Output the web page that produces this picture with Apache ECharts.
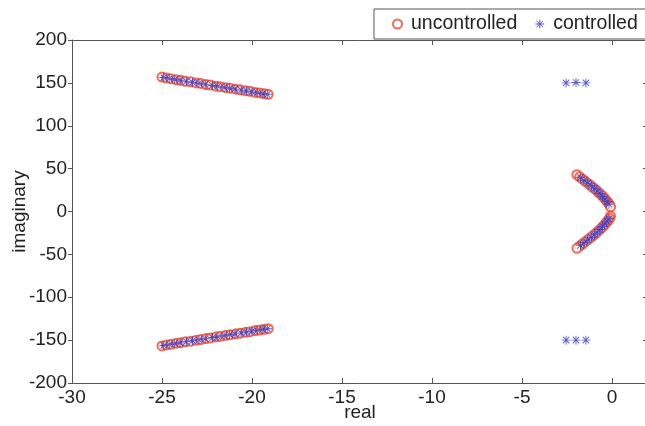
<!DOCTYPE html>
<html>
<head>
<meta charset="utf-8">
<script src="https://cdn.jsdelivr.net/npm/echarts@6.0.0/dist/echarts.min.js"></script>
<style>
  html, body { margin: 0; padding: 0; background: #fff; }
  #chart { width: 645px; height: 426px; }
</style>
</head>
<body>
<div id="chart"></div>
<script>
  // poles, [real, imaginary]
  var uncontrolledUpperLeft = [
    [-25.0, 156.8], [-24.75, 155.6], [-24.5, 154.9], [-24.2, 153.6], [-23.95, 153.0],
    [-23.7, 151.9], [-23.4, 151.2], [-23.1, 150.0], [-22.85, 149.3], [-22.55, 148.1],
    [-22.3, 147.5], [-22.0, 146.2], [-21.75, 145.6], [-21.45, 144.4], [-21.2, 143.8],
    [-20.9, 142.6], [-20.65, 141.9], [-20.35, 140.8], [-20.1, 140.1], [-19.8, 138.9],
    [-19.55, 138.3], [-19.3, 137.2], [-19.1, 136.6]
  ]
  var uncontrolledLowerLeft = [
    [-25.0, -156.8], [-24.75, -155.6], [-24.5, -154.9], [-24.2, -153.6], [-23.95, -153.0],
    [-23.7, -151.9], [-23.4, -151.2], [-23.1, -150.0], [-22.85, -149.3], [-22.55, -148.1],
    [-22.3, -147.5], [-22.0, -146.2], [-21.75, -145.6], [-21.45, -144.4], [-21.2, -143.8],
    [-20.9, -142.6], [-20.65, -141.9], [-20.35, -140.8], [-20.1, -140.1], [-19.8, -138.9],
    [-19.55, -138.3], [-19.3, -137.2], [-19.1, -136.6]
  ]
  var uncontrolledArc = [
    [-1.95, 43], [-1.8, 40.5], [-1.65, 38], [-1.5, 35.5], [-1.35, 33], [-1.2, 30.5],
    [-1.05, 28], [-0.9, 25.5], [-0.78, 23], [-0.65, 20.5], [-0.52, 18], [-0.42, 15.5],
    [-0.32, 13], [-0.22, 10.5], [-0.14, 8], [-0.08, 5.5],
    [-0.08, -5.5], [-0.14, -8], [-0.22, -10.5], [-0.32, -13], [-0.42, -15.5], [-0.52, -18],
    [-0.65, -20.5], [-0.78, -23], [-0.9, -25.5], [-1.05, -28], [-1.2, -30.5], [-1.35, -33],
    [-1.5, -35.5], [-1.65, -38], [-1.8, -40.5], [-1.95, -43]
  ]
  var controlledUpperLeft = [
    [-24.9, 156.2], [-24.6, 155.2], [-24.3, 154.2], [-24.0, 153.1], [-23.65, 151.8],
    [-23.3, 150.7], [-22.95, 149.6], [-22.6, 148.4], [-22.2, 147.0], [-21.9, 146.0],
    [-21.55, 144.8], [-21.25, 143.8], [-20.95, 142.7], [-20.6, 141.6], [-20.3, 140.6],
    [-20.0, 139.5], [-19.7, 138.5], [-19.4, 137.4], [-19.15, 136.7]
  ]
  var controlledLowerLeft = [
    [-24.9, -156.2], [-24.6, -155.2], [-24.3, -154.2], [-24.0, -153.1], [-23.65, -151.8],
    [-23.3, -150.7], [-22.95, -149.6], [-22.6, -148.4], [-22.2, -147.0], [-21.9, -146.0],
    [-21.55, -144.8], [-21.25, -143.8], [-20.95, -142.7], [-20.6, -141.6], [-20.3, -140.6],
    [-20.0, -139.5], [-19.7, -138.5], [-19.4, -137.4], [-19.15, -136.7]
  ]
  var controlledArc = [
    [-1.75, 39.5], [-1.55, 36.5], [-1.35, 33.2], [-1.15, 30], [-0.97, 27], [-0.82, 24],
    [-0.67, 21], [-0.53, 17.5], [-0.4, 14.5], [-0.28, 11.5], [-0.17, 8.5],
    [-0.17, -8.5], [-0.28, -11.5], [-0.4, -14.5], [-0.53, -17.5], [-0.67, -21],
    [-0.82, -24], [-0.97, -27], [-1.15, -30], [-1.35, -33.2], [-1.55, -36.5], [-1.75, -39.5]
  ]
  var controlledExtra = [
    [-2.55, 150], [-2.0, 150.5], [-1.45, 150],
    [-2.55, -150], [-2.0, -150], [-1.45, -150]
  ]
  var xTicks = [-30, 2, 5]   // min, max, step
  var yTicks = [-200, 200, 50]

  var asterisk = 'path://M0,4.5L10,4.5L10,5.5L0,5.5Z M4.5,0L5.5,0L5.5,10L4.5,10Z' +
    'M1.1,1.8L1.8,1.1L8.9,8.2L8.2,8.9Z M8.2,1.1L8.9,1.8L1.8,8.9L1.1,8.2Z'

  var fontFam = '"Liberation Sans", Arial, sans-serif'
  var axisColor = '#555'
  var textColor = '#222'

  function frameAxis(base, extra) {
    var a = {
      type: 'value',
      min: base[0],
      max: base[1],
      interval: base[2],
      axisLine: { show: true, onZero: false, lineStyle: { color: axisColor, width: 1 } },
      axisTick: { show: true, inside: true, length: 5, lineStyle: { color: axisColor } },
      splitLine: { show: false },
      axisLabel: { show: false }
    }
    for (var k in extra) a[k] = extra[k]
    return a
  }

  var chart = echarts.init(document.getElementById('chart'))
  chart.setOption({
    animation: false,
    backgroundColor: '#fff',
    grid: { left: 72, top: 40, width: 576, height: 343, outerBoundsMode: 'none', containLabel: false },
    legend: {
      left: 374,
      top: 9,
      width: 320,
      padding: [5, 10, 5, 18],
      itemWidth: 17,
      itemHeight: 9,
      itemGap: 18,
      backgroundColor: '#fff',
      borderColor: axisColor,
      borderWidth: 1,
      z: 10,
      textStyle: { fontSize: 19.5, color: textColor, fontFamily: fontFam },
      data: ['uncontrolled', 'controlled']
    },
    xAxis: [
      frameAxis(xTicks, {
        position: 'bottom',
        name: 'real',
        nameLocation: 'middle',
        nameGap: 20,
        nameMoveOverlap: false,
        nameTextStyle: { fontSize: 19, color: textColor, fontFamily: fontFam },
        axisLabel: {
          show: true, margin: 5, fontSize: 19, color: textColor, fontFamily: fontFam,
          showMaxLabel: false,
          formatter: function (v) { return v % 5 === 0 ? String(v) : '' }
        }
      }),
      frameAxis(xTicks, { position: 'top' })
    ],
    yAxis: [
      frameAxis(yTicks, {
        position: 'left',
        name: 'imaginary',
        nameLocation: 'middle',
        nameGap: 43,
        nameMoveOverlap: false,
        nameTextStyle: { fontSize: 19, color: textColor, fontFamily: fontFam },
        axisTick: { show: true, inside: false, length: 4, lineStyle: { color: axisColor } },
        axisLabel: { show: true, margin: 5, fontSize: 19, color: textColor, fontFamily: fontFam }
      }),
      frameAxis(yTicks, { position: 'right' })
    ],
    series: [
      {
        name: 'uncontrolled',
        type: 'scatter',
        symbol: 'emptyCircle',
        symbolSize: 9,
        itemStyle: { color: '#e8472e', borderColor: '#e8472e', borderWidth: 1 },
        data: uncontrolledUpperLeft.concat(uncontrolledLowerLeft, uncontrolledArc)
      },
      {
        name: 'controlled',
        type: 'scatter',
        symbol: asterisk,
        symbolSize: 9,
        itemStyle: { color: '#3535c0' },
        data: controlledUpperLeft.concat(controlledLowerLeft, controlledArc, controlledExtra)
      }
    ]
  })
</script>
</body>
</html>
